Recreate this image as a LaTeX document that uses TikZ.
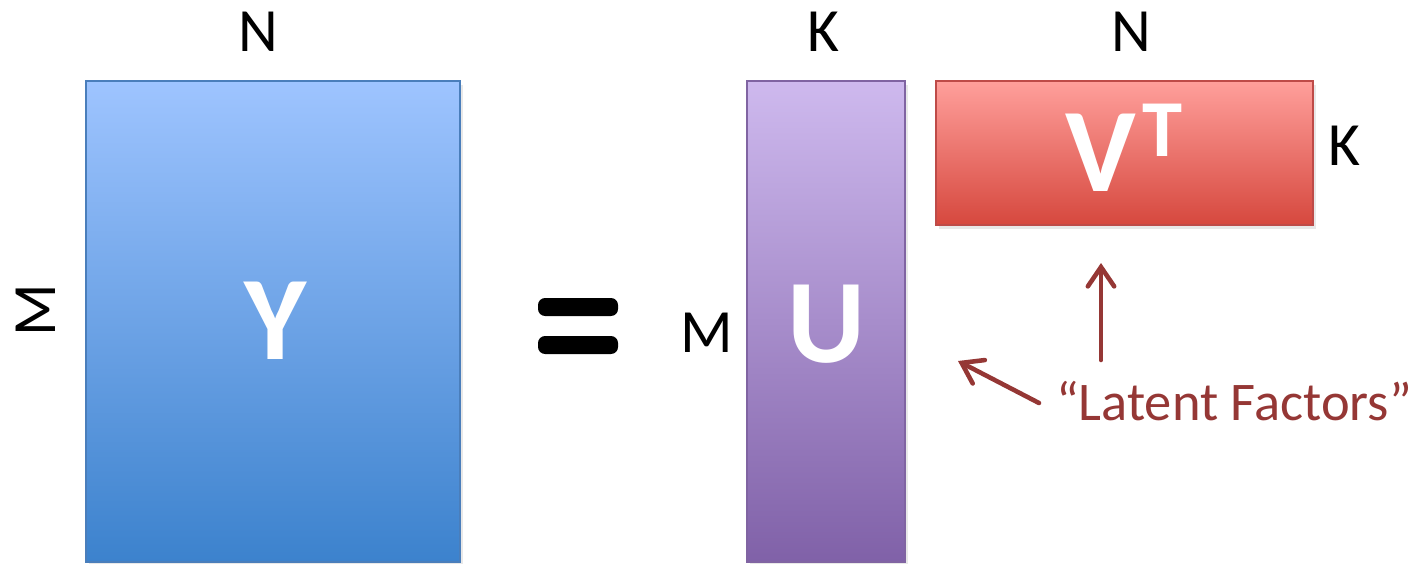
\documentclass[tikz,border=0pt]{standalone}
\usepackage{fontspec}
\setmainfont{Carlito}
\usetikzlibrary{arrows.meta,shadows}
\definecolor{latent}{HTML}{953735}
\definecolor{yborder}{HTML}{4A7EBB}
\definecolor{uborder}{HTML}{8064A2}
\definecolor{vborder}{HTML}{BE4B48}

\begin{document}
\begin{tikzpicture}[x=0.02cm,y=-0.02cm,
  dimlabel/.style={font=\fontsize{35}{35}\selectfont},
  letter/.style={text=white,font=\fontsize{68}{68}\selectfont\bfseries},
  matshadow/.style={drop shadow={opacity=0.18,shadow xshift=1.5pt,shadow yshift=-2.5pt}},
  latent arrow/.style={draw=latent,line width=2.6pt,line cap=round,line join=round,
    -{Straight Barb[length=11pt,width=15pt,line cap=round]}}]
\useasboundingbox (0,0) rectangle (1412,564);
\shade[matshadow,top color={rgb,255:red,158;green,196;blue,255},bottom color={rgb,255:red,60;green,130;blue,205},draw=yborder,line width=1.1pt] (86,81) rectangle (460,562);
\shade[matshadow,top color={rgb,255:red,206;green,185;blue,238},bottom color={rgb,255:red,128;green,97;blue,168},draw=uborder,line width=1.1pt] (747,81) rectangle (905,562);
\shade[matshadow,top color={rgb,255:red,255;green,159;blue,155},middle color={rgb,255:red,246;green,140;blue,134},bottom color={rgb,255:red,214;green,72;blue,62},draw=vborder,line width=1.1pt] (936,81) rectangle (1313,225);
\node[letter] (Y) at (276,321) {Y};
\node[letter] (U) at (826,324) {U};
\node[letter,anchor=base] (V) at (1124,192) {V\kern0.06em\raisebox{0.3em}{\fontsize{46}{46}\selectfont T}};
\node[dimlabel] (nY) at (258,32) {N};
\node[dimlabel,rotate=90] (mY) at (36,310) {M};
\node[dimlabel] (kU) at (823,32) {K};
\node[dimlabel] (mU) at (707,333) {M};
\node[dimlabel] (nV) at (1131,32) {N};
\node[dimlabel] (kV) at (1344,146) {K};
\fill[rounded corners=4pt] (538,298) rectangle (618,316);
\fill[rounded corners=4pt] (538,336) rectangle (618,354);
\node[text=latent,font=\fontsize{31}{31}\selectfont,anchor=base] (lf) at (1234,420) {“Latent Factors”};
\coordinate (upTail) at (1101,360);
\coordinate (upTip) at (1101,263);
\coordinate (leftTail) at (1039,403);
\coordinate (leftTip) at (958,361);
\draw[latent arrow] (upTail) -- (upTip);
\draw[latent arrow] (leftTail) -- (leftTip);
\end{tikzpicture}
\end{document}
